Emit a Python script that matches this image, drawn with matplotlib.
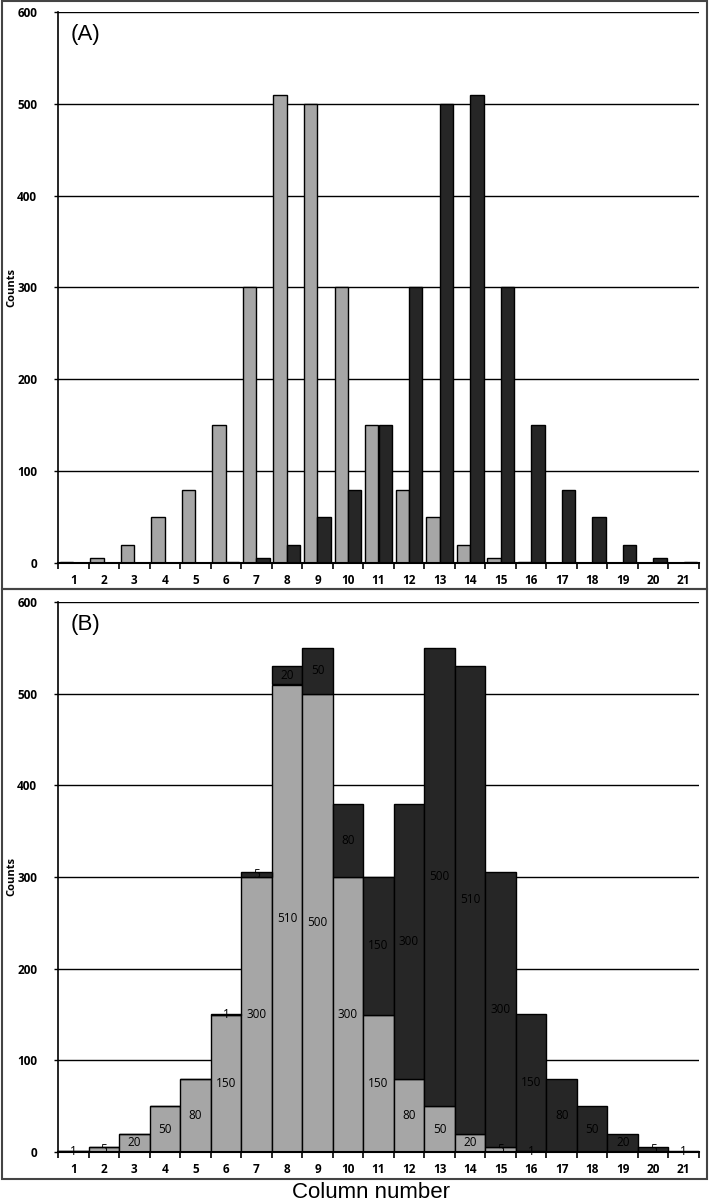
import numpy as np
import matplotlib
matplotlib.use("Agg")
import matplotlib.pyplot as plt
from matplotlib.patches import Rectangle

columns = np.arange(1, 22)
# light grey series (left distribution), columns 1..21
light = [1, 5, 20, 50, 80, 150, 300, 510, 500, 300, 150, 80, 50, 20, 5, 1,
         0, 0, 0, 0, 0]
# dark grey series (right distribution), columns 1..21
dark = [0, 0, 0, 0, 0, 1, 5, 20, 50, 80, 150, 300, 500, 510, 300, 150,
        80, 50, 20, 5, 1]
yticks = [0, 100, 200, 300, 400, 500, 600]

LIGHT = "#a6a6a6"
DARK = "#262626"
plt.rcParams['font.family'] = ['Open Sans', 'DejaVu Sans']

fig = plt.figure(figsize=(7.09, 12.03), dpi=100)

# outer frames
H = 1203.0
W = 709.0
def box(x0, y0, x1, y1):
    fig.add_artist(Rectangle((x0 / W, 1 - y1 / H), (x1 - x0) / W, (y1 - y0) / H,
                             transform=fig.transFigure, fill=False,
                             edgecolor="#444444", lw=1.5))
box(2, 1, 707, 589)
box(2, 589, 707, 1179)

def style(ax, tag):
    ax.set_xlim(0.5, 21.5)
    ax.set_ylim(0, 600)
    ax.set_yticks(yticks)
    ax.set_yticklabels([str(v) for v in yticks], fontsize=8.5, fontweight="bold")
    ax.yaxis.grid(True, color="black", lw=1.0)
    ax.set_axisbelow(True)
    ax.set_xticks(columns)
    ax.set_xticklabels([str(c) for c in columns], fontsize=8.5, fontweight="bold")
    ax.set_xticks(np.arange(0.5, 22, 1), minor=True)
    ax.tick_params(axis="x", which="major", length=0, pad=8)
    ax.tick_params(axis="x", which="minor", length=4, width=1.2, direction="out")
    ax.tick_params(axis="y", length=3, width=1.0, pad=12)
    for s in ["top", "right"]:
        ax.spines[s].set_visible(False)
    ax.spines["left"].set_linewidth(1.2)
    ax.spines["bottom"].set_linewidth(1.5)
    ax.set_ylabel("Counts", fontsize=8, fontweight="bold", labelpad=2)
    ax.text(0.02, 0.978, tag, transform=ax.transAxes, fontsize=16,
            family="Liberation Sans", va="top", ha="left")

# panel A: grouped bars
axA = fig.add_axes([58 / W, 1 - 563 / H, 641 / W, 551 / H])
w = 0.44
axA.bar(columns - w / 2, light, width=w, color=LIGHT, edgecolor="black", lw=1.0)
axA.bar(columns + w / 2, dark, width=w, color=DARK, edgecolor="black", lw=1.0)
style(axA, "(A)")
axA.yaxis.set_label_coords(-0.063, 0.5)

# panel B: stacked bars
axB = fig.add_axes([58 / W, 1 - 1152 / H, 641 / W, 550 / H])
axB.bar(columns, light, width=1.0, color=LIGHT, edgecolor="black", lw=1.0)
axB.bar(columns, dark, width=1.0, bottom=light, color=DARK, edgecolor="black", lw=1.0)
style(axB, "(B)")
axB.yaxis.set_label_coords(-0.063, 0.5)

for c, l, d in zip(columns, light, dark):
    if l > 0:
        axB.text(c, l / 2, str(l), ha="center", va="center", fontsize=8.5)
    if d > 0:
        axB.text(c, l + d / 2, str(d), ha="center", va="center", fontsize=8.5)

fig.text(371 / W, 1 - 1193 / H, "Column number", ha="center", va="center",
         fontsize=16, family="Liberation Sans")

fig.savefig("out.png", dpi=100)
